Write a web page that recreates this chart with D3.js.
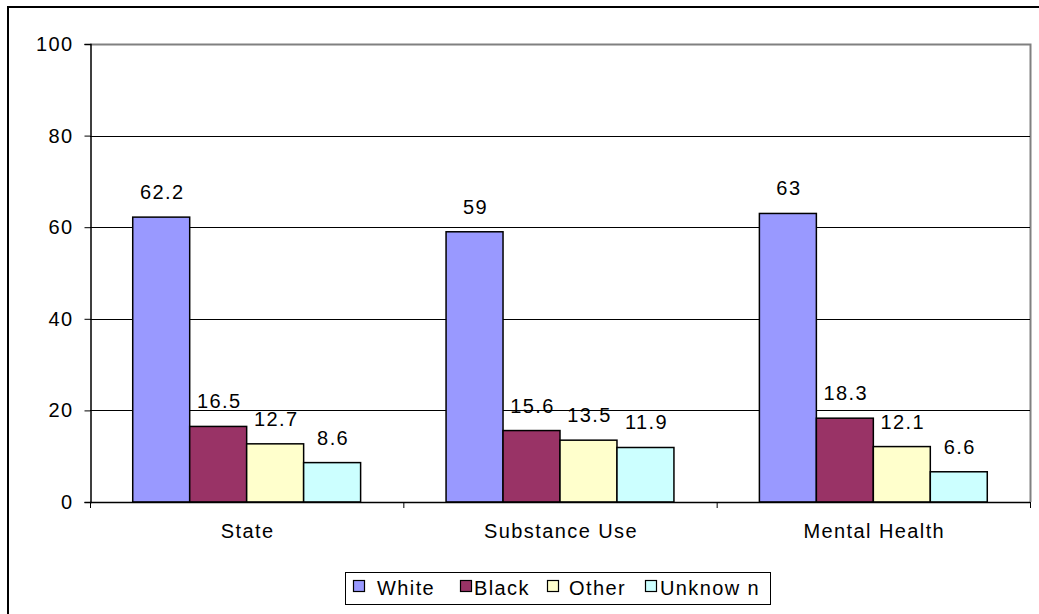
<!DOCTYPE html>
<html>
<head>
<meta charset="utf-8">
<script src="https://cdn.jsdelivr.net/npm/d3@7"></script>
<style>
  body { margin: 0; background: #fff; }
  text { font-family: "Liberation Sans", Arial, sans-serif; fill: #000; font-size: 20px; letter-spacing: 1.4px; }
</style>
</head>
<body>
<script>
// data
var categories = ["State", "Substance Use", "Mental Health"];
var seriesNames = ["White", "Black", "Other", "Unknow n"];
var white = [62.2, 59, 63];
var black = [16.5, 15.6, 18.3];
var other = [12.7, 13.5, 12.1];
var unknown = [8.6, 11.9, 6.6];
var yTicks = [0, 20, 40, 60, 80, 100];
var colors = ["#9999FF", "#993366", "#FFFFCC", "#CCFFFF"];

var series = [white, black, other, unknown];

var w = 1039, h = 614;
var plotLeft = 90, plotRight = 1030, plotTop = 44, plotBottom = 502;

var svg = d3.select("body").append("svg")
    .attr("width", w)
    .attr("height", h);

// outer chart frame
svg.append("rect")
    .attr("x", 8).attr("y", 7)
    .attr("width", w + 10).attr("height", h + 10)
    .attr("fill", "none").attr("stroke", "#000").attr("stroke-width", 2);

var x0 = d3.scaleBand().domain(categories).range([plotLeft, plotRight]);
var x1 = d3.scaleBand().domain(d3.range(4)).range([0, x0.bandwidth()]).paddingOuter(0.75);
var y = d3.scaleLinear().domain([0, 100]).range([plotBottom, plotTop]);

// plot border (top/right grey)
svg.append("path")
    .attr("d", "M" + plotLeft + "," + (plotTop + 0.5) + "H" + (plotRight + 0.5) + "V" + plotBottom)
    .attr("fill", "none").attr("stroke", "#808080").attr("stroke-width", 2);

// gridlines
svg.append("g").selectAll("line")
    .data(yTicks.filter(function(d) { return d > 0 && d < 100; }))
    .enter().append("line")
    .attr("x1", plotLeft).attr("x2", plotRight)
    .attr("y1", function(d) { return Math.round(y(d)) + 0.5; })
    .attr("y2", function(d) { return Math.round(y(d)) + 0.5; })
    .attr("stroke", "#000").attr("stroke-width", 1);

// y axis
var yAxis = d3.axisLeft(y).tickValues(yTicks).tickSize(6).tickPadding(11);
var gy = svg.append("g")
    .attr("transform", "translate(" + (plotLeft + 0.5) + ",0)")
    .call(yAxis);
gy.select(".domain").attr("stroke", "#000").attr("stroke-width", 1.5);
gy.selectAll("text").style("font-size", "20px").attr("font-family", null);

// bars
var groups = svg.append("g").selectAll("g")
    .data(categories)
    .enter().append("g")
    .attr("transform", function(d) { return "translate(" + x0(d) + ",0)"; });

groups.selectAll("rect")
    .data(function(d, i) { return series.map(function(s, j) { return { k: j, v: s[i] }; }); })
    .enter().append("rect")
    .attr("x", function(d) { return x1(d.k); })
    .attr("y", function(d) { return y(d.v); })
    .attr("width", x1.bandwidth())
    .attr("height", function(d) { return plotBottom - y(d.v); })
    .attr("fill", function(d) { return colors[d.k]; })
    .attr("stroke", "#000").attr("stroke-width", 1.5);

groups.selectAll("text.val")
    .data(function(d, i) { return series.map(function(s, j) { return { k: j, v: s[i] }; }); })
    .enter().append("text")
    .attr("class", "val")
    .attr("x", function(d) { return x1(d.k) + x1.bandwidth() / 2 + 1; })
    .attr("y", function(d) { return y(d.v) - 18; })
    .attr("text-anchor", "middle")
    .text(function(d) { return d.v; });

// x axis
svg.append("line")
    .attr("x1", plotLeft).attr("x2", plotRight)
    .attr("y1", plotBottom + 0.5).attr("y2", plotBottom + 0.5)
    .attr("stroke", "#000").attr("stroke-width", 1.5);
var xTicks = categories.map(function(c) { return x0(c); }).concat([plotRight]);
svg.append("g").selectAll("line")
    .data(xTicks)
    .enter().append("line")
    .attr("x1", function(d) { return d + 0.5; }).attr("x2", function(d) { return d + 0.5; })
    .attr("y1", plotBottom).attr("y2", plotBottom + 6)
    .attr("stroke", "#000");
svg.append("g").selectAll("text")
    .data(categories)
    .enter().append("text")
    .attr("x", function(d) { return x0(d) + x0.bandwidth() / 2 + 1; })
    .attr("y", 538)
    .attr("text-anchor", "middle")
    .text(function(d) { return d; });

// legend
var legend = svg.append("g").attr("transform", "translate(345,572)");
legend.append("rect")
    .attr("x", 0.5).attr("y", 0.5).attr("width", 425).attr("height", 32)
    .attr("fill", "#fff").attr("stroke", "#000");
var swatchX = [8, 115, 202, 300];
var labelX = [32, 129, 224, 315];
var items = legend.selectAll("g.item")
    .data(seriesNames)
    .enter().append("g")
    .attr("class", "item");
items.append("rect")
    .attr("x", function(d, i) { return swatchX[i] + 0.5; })
    .attr("y", 8.5).attr("width", 11).attr("height", 11)
    .attr("fill", function(d, i) { return colors[i]; })
    .attr("stroke", "#000").attr("stroke-width", 1.2);
items.append("text")
    .attr("x", function(d, i) { return labelX[i]; })
    .attr("y", 23)
    .text(function(d) { return d; });
</script>
</body>
</html>
